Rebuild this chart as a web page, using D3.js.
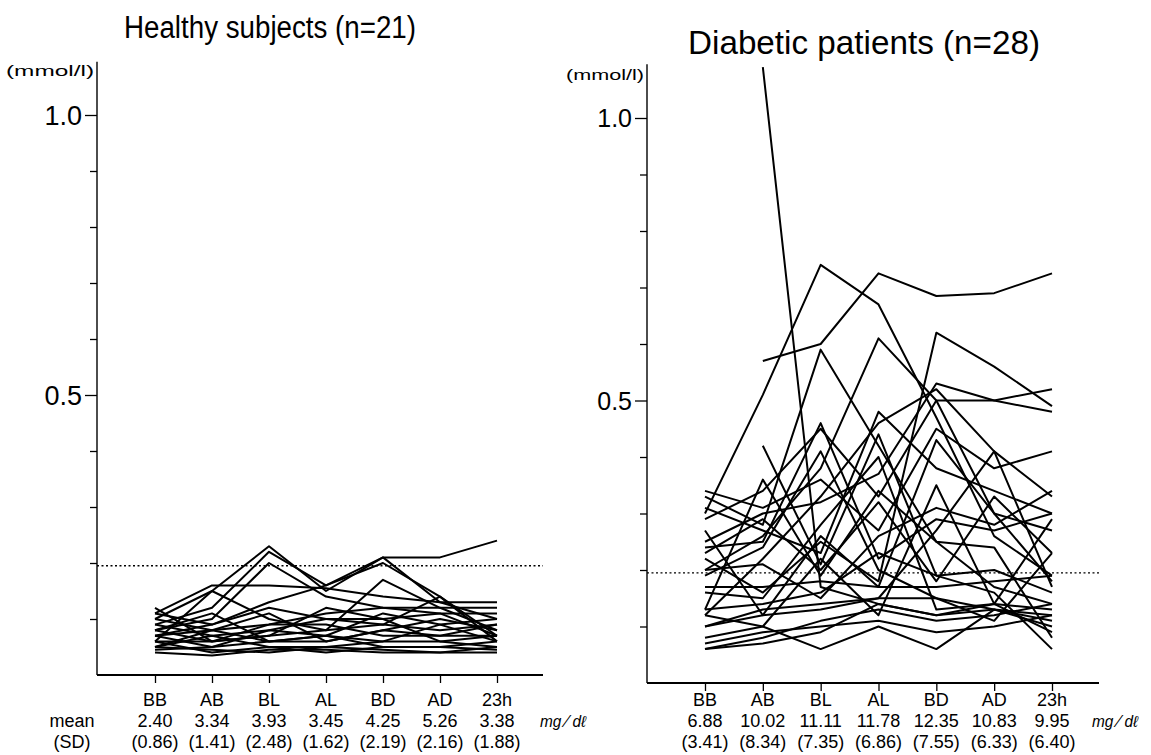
<!DOCTYPE html>
<html lang="en">
	<head>
		<meta charset="utf-8">
		<title>Healthy subjects vs Diabetic patients</title>
		<script type="text/javascript" src="https://cdn.jsdelivr.net/npm/d3@7"></script>
		<style type="text/css">
			html, body {
				margin: 0;
				background-color: white;
			}
			text {
				font-family: "Liberation Sans", Arial, sans-serif;
				fill: black;
			}
		</style>
	</head>
	<body>
		<script type="text/javascript">

			//Sampling times
			var times = ["BB", "AB", "BL", "AL", "BD", "AD", "23h"];

			//Plasma glucose rows under the axis (mg/dl)
			var healthyMeans = ["2.40", "3.34", "3.93", "3.45", "4.25", "5.26", "3.38"];
			var healthySD = ["(0.86)", "(1.41)", "(2.48)", "(1.62)", "(2.19)", "(2.16)", "(1.88)"];
			var diabeticMeans = ["6.88", "10.02", "11.11", "11.78", "12.35", "10.83", "9.95"];
			var diabeticSD = ["(3.41)", "(8.34)", "(7.35)", "(6.86)", "(7.55)", "(6.33)", "(6.40)"];

			//Y axis ticks (mmol/l)
			var yTicks = [0.1, 0.2, 0.3, 0.4, 0.5, 0.6, 0.7, 0.8, 0.9, 1.0];
			var yLabelled = [0.5, 1.0];
			var refLevel = 0.195;

			//Healthy subjects, one row per subject (n=21)
			var healthy = [
				[0.10, 0.15, 0.23, 0.15, 0.21, 0.21, 0.24],
				[0.09, 0.12, 0.22, 0.16, 0.21, 0.13, 0.10],
				[0.11, 0.16, 0.16, 0.155, 0.14, 0.13, 0.13],
				[0.08, 0.10, 0.20, 0.14, 0.12, 0.11, 0.07],
				[0.07, 0.09, 0.13, 0.16, 0.20, 0.14, 0.06],
				[0.06, 0.15, 0.10, 0.08, 0.17, 0.12, 0.08],
				[0.10, 0.08, 0.09, 0.11, 0.12, 0.12, 0.12],
				[0.09, 0.07, 0.08, 0.10, 0.10, 0.11, 0.11],
				[0.12, 0.06, 0.07, 0.08, 0.09, 0.08, 0.09],
				[0.08, 0.11, 0.06, 0.07, 0.11, 0.09, 0.10],
				[0.07, 0.08, 0.11, 0.06, 0.08, 0.10, 0.08],
				[0.06, 0.06, 0.09, 0.09, 0.07, 0.07, 0.07],
				[0.05, 0.07, 0.05, 0.05, 0.06, 0.06, 0.05],
				[0.045, 0.05, 0.06, 0.07, 0.05, 0.05, 0.06],
				[0.06, 0.04, 0.05, 0.04, 0.05, 0.05, 0.045],
				[0.05, 0.045, 0.04, 0.05, 0.045, 0.04, 0.04],
				[0.04, 0.035, 0.045, 0.045, 0.04, 0.04, 0.05],
				[0.11, 0.09, 0.12, 0.10, 0.09, 0.14, 0.07],
				[0.08, 0.06, 0.07, 0.12, 0.10, 0.06, 0.07],
				[0.05, 0.08, 0.06, 0.06, 0.08, 0.07, 0.09],
				[0.07, 0.05, 0.08, 0.07, 0.06, 0.09, 0.06]
			];

			//Diabetic patients, one row per patient (n=28), null = no value
			var diabetic = [
				[null, 0.57, 0.60, 0.725, 0.685, 0.69, 0.725],
				[0.30, 0.51, 0.74, 0.67, 0.47, 0.26, 0.19],
				[null, 1.09, 0.17, 0.14, 0.12, 0.13, 0.11],
				[0.33, 0.28, 0.59, 0.42, 0.25, 0.17, 0.14],
				[0.20, 0.26, 0.38, 0.61, 0.50, 0.30, 0.18],
				[0.22, 0.16, 0.25, 0.18, 0.62, 0.56, 0.49],
				[0.25, 0.30, 0.32, 0.37, 0.53, 0.50, 0.52],
				[0.12, 0.22, 0.33, 0.46, 0.52, 0.41, 0.33],
				[0.29, 0.34, 0.45, 0.33, 0.50, 0.50, 0.48],
				[0.34, 0.31, 0.36, 0.27, 0.45, 0.38, 0.41],
				[0.24, 0.25, 0.46, 0.22, 0.29, 0.27, 0.30],
				[0.16, 0.15, 0.28, 0.40, 0.13, 0.14, 0.29],
				[0.10, 0.12, 0.26, 0.17, 0.43, 0.30, 0.27],
				[0.23, 0.29, 0.20, 0.32, 0.18, 0.33, 0.23],
				[0.20, 0.21, 0.15, 0.26, 0.31, 0.28, 0.34],
				[0.17, 0.17, 0.18, 0.17, 0.17, 0.18, 0.19],
				[0.13, 0.14, 0.16, 0.23, 0.19, 0.20, 0.16],
				[0.10, 0.13, 0.14, 0.15, 0.15, 0.13, 0.12],
				[0.12, 0.10, 0.06, 0.10, 0.06, 0.13, 0.10],
				[0.07, 0.09, 0.10, 0.11, 0.09, 0.10, 0.12],
				[0.06, 0.08, 0.11, 0.13, 0.11, 0.12, 0.14],
				[0.06, 0.07, 0.09, 0.14, 0.12, 0.14, 0.13],
				[null, 0.42, 0.21, 0.44, 0.19, 0.16, 0.06],
				[0.08, 0.10, 0.22, 0.12, 0.35, 0.14, 0.09],
				[0.31, 0.27, 0.23, 0.48, 0.38, 0.34, 0.30],
				[0.19, 0.24, 0.41, 0.20, 0.15, 0.11, 0.23],
				[0.13, 0.36, 0.19, 0.34, 0.25, 0.24, 0.08],
				[0.27, 0.12, 0.13, 0.15, 0.27, 0.41, 0.17]
			];

			//Width and height
			var w = 1151;
			var h = 755;

			var svg = d3.select("body")
						.append("svg")
						.attr("width", w)
						.attr("height", h);

			function drawPanel(p) {

				var x = d3.scalePoint()
						  .domain(times)
						  .range([p.x0, p.x1]);

				var y = d3.scaleLinear()
						  .domain([0, 1])
						  .range([p.yZero, p.yOne]);

				var g = svg.append("g");

				//Title
				g.append("text")
				 .attr("x", p.titleX)
				 .attr("y", p.titleY)
				 .attr("font-size", p.titleSize)
				 .attr("textLength", p.titleLen)
				 .attr("lengthAdjust", "spacingAndGlyphs")
				 .text(p.title);

				//Unit label
				g.append("text")
				 .attr("x", p.axisX - 3)
				 .attr("y", p.unitY)
				 .attr("text-anchor", "end")
				 .attr("font-size", 15)
				 .attr("textLength", p.unitLen)
				 .attr("lengthAdjust", "spacingAndGlyphs")
				 .text("(mmol/l)");

				//Y axis
				var yAxis = d3.axisLeft(y)
							  .tickValues(yTicks)
							  .tickSize(7)
							  .tickFormat("");

				var ya = g.append("g")
						  .attr("transform", "translate(" + p.axisX + ",0)")
						  .call(yAxis);
				ya.select(".domain").remove();
				ya.selectAll(".tick line")
				  .attr("x2", function(d) { return yLabelled.indexOf(d) >= 0 ? -12 : -7; })
				  .attr("stroke-width", 1.3);

				g.append("line")
				 .attr("x1", p.axisX).attr("x2", p.axisX)
				 .attr("y1", y(1.095)).attr("y2", y(0))
				 .attr("stroke", "black")
				 .attr("stroke-width", 1.4);

				g.selectAll("text.ylab")
				 .data(yLabelled)
				 .enter()
				 .append("text")
				 .attr("class", "ylab")
				 .attr("x", p.axisX - 15)
				 .attr("y", function(d) { return y(d); })
				 .attr("dy", "0.36em")
				 .attr("text-anchor", "end")
				 .attr("font-size", p.tickSize)
				 .text(d3.format(".1f"));

				//X axis
				var xAxis = d3.axisBottom(x)
							  .tickSize(8)
							  .tickFormat("");

				var xa = g.append("g")
						  .attr("transform", "translate(0," + y(0) + ")")
						  .call(xAxis);
				xa.select(".domain").remove();
				xa.selectAll(".tick line").attr("stroke-width", 1.3);

				g.append("line")
				 .attr("x1", p.axisX).attr("x2", p.xEnd)
				 .attr("y1", y(0)).attr("y2", y(0))
				 .attr("stroke", "black")
				 .attr("stroke-width", 1.8);

				//Reference level (dotted)
				g.append("line")
				 .attr("x1", p.axisX).attr("x2", p.xEnd)
				 .attr("y1", y(refLevel)).attr("y2", y(refLevel))
				 .attr("stroke", "black")
				 .attr("stroke-width", 1.4)
				 .attr("stroke-dasharray", "2,2.5");

				//Individual profiles
				var line = d3.line()
							 .defined(function(d) { return d != null; })
							 .x(function(d, i) { return x(times[i]); })
							 .y(function(d) { return y(d); });

				g.selectAll("path.subj")
				 .data(p.series)
				 .enter()
				 .append("path")
				 .attr("class", "subj")
				 .attr("d", line)
				 .attr("fill", "none")
				 .attr("stroke", "black")
				 .attr("stroke-width", 2)
				 .attr("stroke-linejoin", "round");

				//Rows under the axis
				var rows = [times, p.means, p.sds];
				var rowY = [p.rowY, p.rowY + 21, p.rowY + 42];

				rows.forEach(function(row, r) {
					g.selectAll("text.row" + r)
					 .data(row)
					 .enter()
					 .append("text")
					 .attr("class", "row" + r)
					 .attr("x", function(d, i) { return x(times[i]); })
					 .attr("y", rowY[r])
					 .attr("dy", "0.36em")
					 .attr("text-anchor", "middle")
					 .attr("font-size", 18)
					 .text(function(d) { return d; });
				});

				//Unit of the glucose rows
				g.append("text")
				 .attr("x", p.mgX)
				 .attr("y", rowY[1])
				 .attr("dy", "0.36em")
				 .attr("font-family", "'DejaVu Serif', serif")
				 .attr("font-style", "italic")
				 .attr("font-size", 16)
				 .attr("textLength", 46)
				 .attr("lengthAdjust", "spacingAndGlyphs")
				 .text("mg ⁄ dℓ");

				return x;
			}

			drawPanel({
				title: "Healthy subjects (n=21)",
				titleX: 124, titleY: 38, titleSize: 31, titleLen: 292,
				axisX: 97, xEnd: 543, x0: 155, x1: 497,
				yZero: 675, yOne: 115, unitY: 76, unitLen: 88,
				tickSize: 27, rowY: 700, mgX: 540,
				series: healthy, means: healthyMeans, sds: healthySD
			});

			drawPanel({
				title: "Diabetic patients (n=28)",
				titleX: 688, titleY: 54, titleSize: 34, titleLen: 352,
				axisX: 647, xEnd: 1099, x0: 705, x1: 1052,
				yZero: 683, yOne: 118, unitY: 80, unitLen: 78,
				tickSize: 25, rowY: 700, mgX: 1092,
				series: diabetic, means: diabeticMeans, sds: diabeticSD
			});

			//Row names at the far left
			svg.append("text")
			   .attr("x", 72).attr("y", 721).attr("dy", "0.36em")
			   .attr("text-anchor", "middle").attr("font-size", 18)
			   .text("mean");
			svg.append("text")
			   .attr("x", 72).attr("y", 742).attr("dy", "0.36em")
			   .attr("text-anchor", "middle").attr("font-size", 18)
			   .text("(SD)");

		</script>
	</body>
</html>
